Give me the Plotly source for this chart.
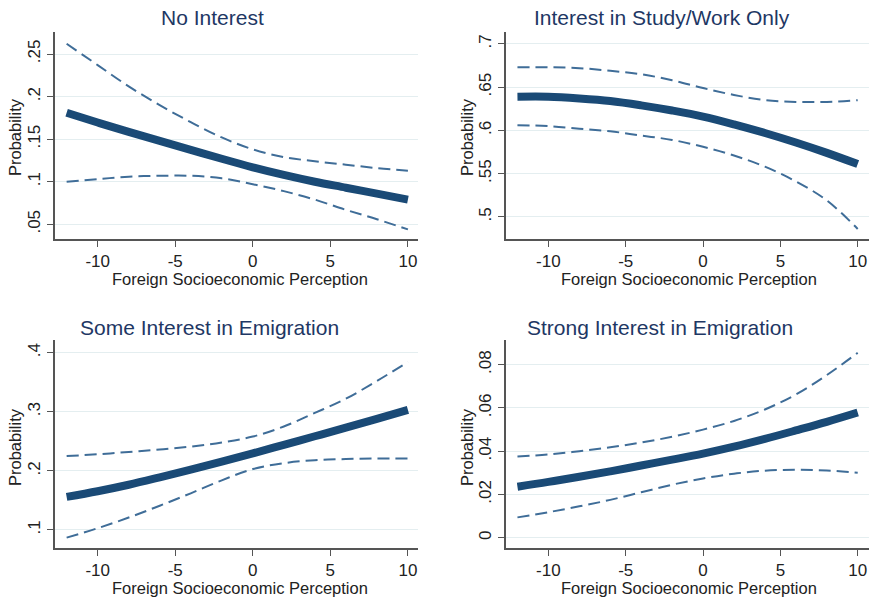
import plotly.graph_objects as go

# ---------------- data ----------------
x_vals = [-12, -10, -8, -6, -4, -2, 0, 2, 4, 6, 8, 10]

titles = ["No Interest", "Interest in Study/Work Only",
          "Some Interest in Emigration", "Strong Interest in Emigration"]

no_int_mean = [0.181, 0.1695, 0.1585, 0.148, 0.1375, 0.127, 0.117, 0.108, 0.100, 0.093, 0.086, 0.079]
no_int_hi   = [0.262, 0.237, 0.212, 0.190, 0.170, 0.152, 0.138, 0.129, 0.124, 0.120, 0.116, 0.113]
no_int_lo   = [0.100, 0.103, 0.106, 0.107, 0.107, 0.104, 0.097, 0.089, 0.079, 0.067, 0.056, 0.044]

study_mean = [0.639, 0.639, 0.637, 0.634, 0.629, 0.623, 0.616, 0.607, 0.597, 0.586, 0.574, 0.561]
study_hi   = [0.673, 0.673, 0.672, 0.669, 0.665, 0.658, 0.649, 0.641, 0.635, 0.633, 0.633, 0.635]
study_lo   = [0.606, 0.605, 0.602, 0.599, 0.594, 0.589, 0.581, 0.571, 0.558, 0.541, 0.519, 0.486]

some_mean = [0.156, 0.1655, 0.1765, 0.189, 0.202, 0.2155, 0.2295, 0.244, 0.2585, 0.273, 0.288, 0.303]
some_hi   = [0.225, 0.228, 0.232, 0.236, 0.241, 0.248, 0.258, 0.275, 0.298, 0.322, 0.352, 0.384]
some_lo   = [0.087, 0.103, 0.121, 0.141, 0.162, 0.184, 0.203, 0.213, 0.218, 0.220, 0.221, 0.221]

strong_mean = [0.0236, 0.0258, 0.0282, 0.0307, 0.0334, 0.0361, 0.0389, 0.0421, 0.0457, 0.0496, 0.0536, 0.0579]
strong_hi   = [0.0375, 0.0385, 0.0400, 0.0418, 0.0440, 0.0467, 0.0500, 0.0540, 0.0593, 0.0662, 0.0752, 0.0855]
strong_lo   = [0.0094, 0.0118, 0.0145, 0.0175, 0.0210, 0.0245, 0.0274, 0.0296, 0.0310, 0.0314, 0.0311, 0.0300]

x_ticks = [-10, -5, 0, 5, 10]
x_ticklabels = ["-10", "-5", "0", "5", "10"]

y_ticks_1 = [0.05, 0.10, 0.15, 0.20, 0.25]
y_ticklabels_1 = [".05", ".1", ".15", ".2", ".25"]
y_ticks_2 = [0.50, 0.55, 0.60, 0.65, 0.70]
y_ticklabels_2 = [".5", ".55", ".6", ".65", ".7"]
y_ticks_3 = [0.1, 0.2, 0.3, 0.4]
y_ticklabels_3 = [".1", ".2", ".3", ".4"]
y_ticks_4 = [0.0, 0.02, 0.04, 0.06, 0.08]
y_ticklabels_4 = ["0", ".02", ".04", ".06", ".08"]

x_title = "Foreign Socioeconomic Perception"
y_title = "Probability"

# ---------------- styling ----------------
W, H = 871, 598
FONT = "Liberation Sans, Arial, sans-serif"
MAIN_COLOR = "#1a4a76"
CI_COLOR = "#3f6d98"
TITLE_COLOR = "#1e3764"
GRID_COLOR = "#e4eef0"
AXIS_COLOR = "#555555"

def px_x(p):
    return p / W

def px_y(p):
    return 1 - p / H

panels = [
    dict(mean=no_int_mean, hi=no_int_hi, lo=no_int_lo, yt=y_ticks_1, ytl=y_ticklabels_1,
         xr=[-12.75, 10.65], yr=[0.0324, 0.2755], xd=[55, 418], yd=[239.3, 32.3],
         title_xy=(212, 18), xt_xy=(240, 279), yt_xy=(15, 137)),
    dict(mean=study_mean, hi=study_hi, lo=study_lo, yt=y_ticks_2, ytl=y_ticklabels_2,
         xr=[-12.74, 10.73], yr=[0.474, 0.7135], xd=[506, 869], yd=[239.3, 32.3],
         title_xy=(662, 18), xt_xy=(689, 279), yt_xy=(467, 137)),
    dict(mean=some_mean, hi=some_hi, lo=some_lo, yt=y_ticks_3, ytl=y_ticklabels_3,
         xr=[-12.75, 10.65], yr=[0.069, 0.4208], xd=[55, 418], yd=[548.3, 340.3],
         title_xy=(209, 327), xt_xy=(240, 588), yt_xy=(15, 447)),
    dict(mean=strong_mean, hi=strong_hi, lo=strong_lo, yt=y_ticks_4, ytl=y_ticklabels_4,
         xr=[-12.74, 10.73], yr=[-0.0049, 0.0913], xd=[506, 869], yd=[548.3, 340.3],
         title_xy=(660, 327), xt_xy=(689, 588), yt_xy=(467, 447)),
]

fig = go.Figure()
annotations = []
layout_axes = {}

for i, (p, title) in enumerate(zip(panels, titles), start=1):
    xa = "x" if i == 1 else f"x{i}"
    ya = "y" if i == 1 else f"y{i}"
    for series, dash, width, color in [(p["hi"], "dash", 2, CI_COLOR),
                                        (p["lo"], "dash", 2, CI_COLOR),
                                        (p["mean"], "solid", 8, MAIN_COLOR)]:
        fig.add_trace(go.Scatter(
            x=x_vals, y=series, mode="lines", xaxis=xa, yaxis=ya,
            line=dict(color=color, width=width, dash="12px,6px" if dash == "dash" else "solid",
                      shape="spline", smoothing=1.0),
            showlegend=False, hoverinfo="skip"))

    xkey = "xaxis" if i == 1 else f"xaxis{i}"
    ykey = "yaxis" if i == 1 else f"yaxis{i}"
    layout_axes[xkey] = dict(
        domain=[px_x(p["xd"][0]), px_x(p["xd"][1])], range=p["xr"], anchor=ya,
        automargin=False,
        tickvals=x_ticks, ticktext=x_ticklabels, showgrid=False, zeroline=False,
        showline=True, linecolor=AXIS_COLOR, linewidth=1.5,
        ticks="outside", ticklen=6, tickcolor=AXIS_COLOR, tickwidth=1.2,
        tickfont=dict(family=FONT, size=17, color="#222222"), fixedrange=True)
    layout_axes[ykey] = dict(
        domain=[px_y(p["yd"][0]), px_y(p["yd"][1])], range=p["yr"], anchor=xa,
        automargin=False,
        tickvals=p["yt"], ticktext=p["ytl"], showgrid=True, gridcolor=GRID_COLOR, gridwidth=1,
        zeroline=False, showline=True, linecolor=AXIS_COLOR, linewidth=1.5,
        ticks="outside", ticklen=6, tickcolor=AXIS_COLOR, tickwidth=1.2, tickangle=-90,
        tickfont=dict(family=FONT, size=17, color="#222222"), fixedrange=True)

    annotations.append(dict(text=title, x=px_x(p["title_xy"][0]), y=px_y(p["title_xy"][1]),
                            xref="paper", yref="paper", showarrow=False,
                            xanchor="center", yanchor="middle",
                            font=dict(family=FONT, size=21, color=TITLE_COLOR)))
    annotations.append(dict(text=x_title, x=px_x(p["xt_xy"][0]), y=px_y(p["xt_xy"][1]),
                            xref="paper", yref="paper", showarrow=False,
                            xanchor="center", yanchor="middle",
                            font=dict(family=FONT, size=16.5, color="#222222")))
    annotations.append(dict(text=y_title, x=px_x(p["yt_xy"][0]), y=px_y(p["yt_xy"][1]),
                            xref="paper", yref="paper", showarrow=False, textangle=-90,
                            xanchor="center", yanchor="middle",
                            font=dict(family=FONT, size=16.5, color="#222222")))

fig.update_layout(
    width=W, height=H,
    margin=dict(l=0, r=0, t=0, b=0, autoexpand=False),
    paper_bgcolor="white", plot_bgcolor="white",
    annotations=annotations,
    **layout_axes,
)

fig.write_html("out.html", config={"displayModeBar": False},
               post_script="document.body.style.margin='0';document.body.style.overflow='hidden';")
